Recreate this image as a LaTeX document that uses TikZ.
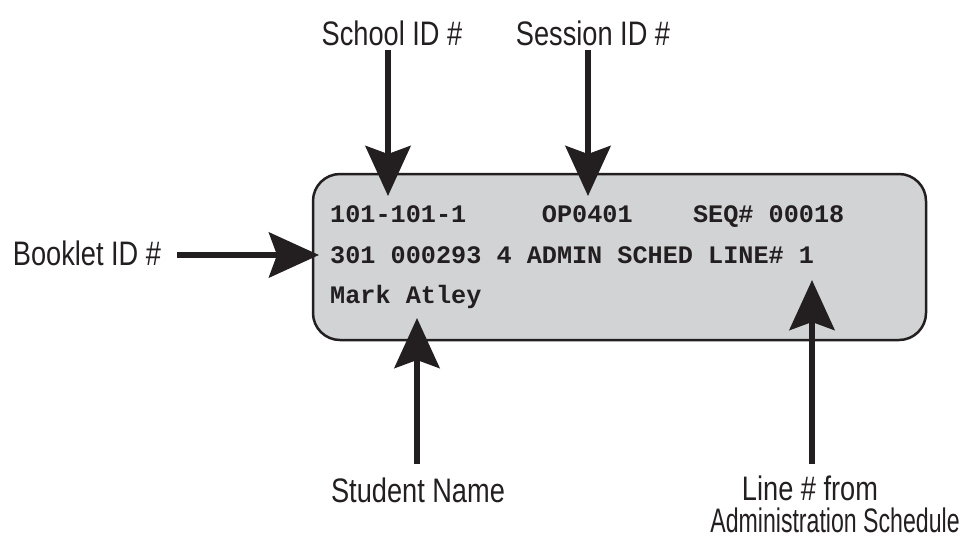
\documentclass[tikz,border=0pt]{standalone}
\usepackage{fontspec}
\setmainfont{Liberation Sans}[FakeStretch=0.8]
\setmonofont{Liberation Mono}
\usetikzlibrary{arrows.meta}
\definecolor{boxgray}{RGB}{209,211,212}
\definecolor{ink}{RGB}{35,31,32}
\begin{document}
\begin{tikzpicture}[x=1pt,y=-1pt,
  lab/.style={inner sep=0pt, text=ink, font=\fontsize{34}{40}\selectfont},
  mono/.style={inner sep=0pt, anchor=base west, text=ink, font=\ttfamily\bfseries\fontsize{25.2}{30}\selectfont},
  arr/.style={draw=ink, line width=6pt, -{Stealth[length=50pt,width=45pt,inset=8pt,fill=ink]}},
  card/.style={draw=ink, line width=2.5pt, fill=boxgray, rounded corners=27pt, minimum width=613pt, minimum height=166pt, inner sep=0pt}]
\useasboundingbox (0,0) rectangle (963,539);
% card
\node[card] (card) at (619.5,257) {};
% card text
\node[mono] (l1) at (330,222) {101-101-1\ \ \ \ \ OP0401\ \ \ \ SEQ\#\ 00018};
\node[mono] (l2) at (330,263) {301\ 000293\ 4\ ADMIN\ SCHED\ LINE\#\ 1};
\node[mono] (l3) at (330,303) {Mark\ Atley};
% labels
\node[lab] (school) at (392,33) {School ID \#};
\node[lab] (session) at (593,33) {Session ID \#};
\node[lab] (booklet) at (87,253) {Booklet ID \#};
\node[lab] (student) at (418,490) {Student Name};
\node[lab] (linea) at (810,488) {Line \# from};
\node[lab] (lineb) at (835,520) {\scalebox{0.85}[1]{Administration Schedule}};
% arrow ends
\coordinate (schoolS) at (388,50);
\coordinate (schoolT) at (388,196);
\coordinate (sessionS) at (588,50);
\coordinate (sessionT) at (588,196);
\coordinate (bookletS) at (177,255);
\coordinate (bookletT) at (319,255);
\coordinate (studentS) at (417,464);
\coordinate (studentT) at (417,318);
\coordinate (lineS) at (812,464);
\coordinate (lineT) at (812,280);
% connectors
\draw[arr] (schoolS) -- (schoolT);
\draw[arr] (sessionS) -- (sessionT);
\draw[arr] (bookletS) -- (bookletT);
\draw[arr] (studentS) -- (studentT);
\draw[arr] (lineS) -- (lineT);
\end{tikzpicture}
\end{document}
